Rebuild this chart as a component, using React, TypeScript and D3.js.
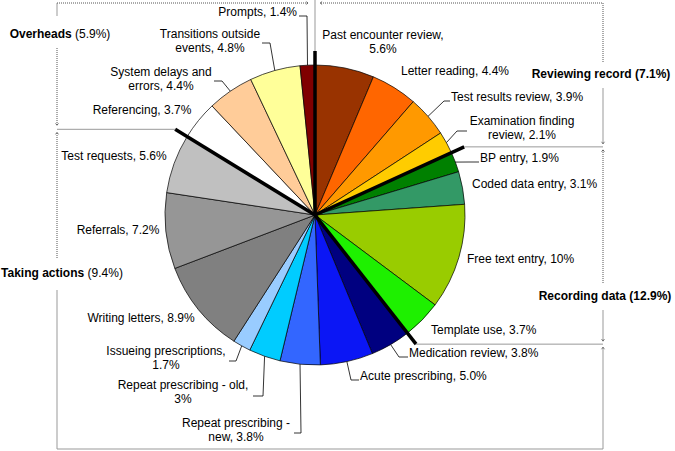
import React from 'react';
import * as d3 from 'd3';

// slices, clockwise from 12 o'clock
const categories = [
  'Past encounter review', 'Letter reading', 'Test results review', 'Examination finding review',
  'BP entry', 'Coded data entry', 'Free text entry', 'Template use',
  'Medication review', 'Acute prescribing', 'Repeat prescribing - new', 'Repeat prescribing - old',
  'Issueing prescriptions', 'Writing letters', 'Referrals', 'Test requests',
  'Referencing', 'System delays and errors', 'Transitions outside events', 'Prompts',
];
const values = [5.6, 4.4, 3.9, 2.1, 1.9, 3.1, 10, 3.7, 3.8, 5.0, 3.8, 3, 1.7, 8.9, 7.2, 5.6, 3.7, 4.4, 4.8, 1.4];
const colors = [
  '#993300', '#ff6600', '#ff9900', '#ffcc00',
  '#008000', '#339966', '#99cc00', '#1ef000',
  '#000080', '#0b16f5', '#3366ff', '#00ccff', '#99ccff', '#808080', '#969696', '#c0c0c0',
  '#ffffff', '#ffcc99', '#ffff99', '#800000',
];

// groups and the slice index each one starts at
const groupNames = ['Reviewing record', 'Recording data', 'Taking actions', 'Overheads'];
const groupValues = ['7.1%', '12.9%', '9.4%', '5.9%'];
const groupStarts = [0, 4, 8, 16];

const W = 675;
const H = 451;
const cx = 315;
const cy = 215;
const R = 150;
const R_EXT = 164;
const LEFT_X = 57;
const RIGHT_X = 603;
const TOP_Y = 3;
const BOTTOM_Y = 449;
const FONT = 'Arial, "Liberation Sans", sans-serif';

// label layout: text lines split, anchor point, leader tail/elbow (null = no leader)
type Lbl = { lines: string[]; x: number; y: number; anchor: string; leader: number[][] | null };
const labelLayout: Lbl[] = [
  { lines: ['Past encounter review,', '5.6%'], x: 383, y: 39, anchor: 'middle', leader: null },
  { lines: ['Letter reading, 4.4%'], x: 455, y: 75, anchor: 'middle', leader: null },
  { lines: ['Test results review, 3.9%'], x: 451, y: 101, anchor: 'start', leader: [[450, 101], [444, 101]] },
  { lines: ['Examination finding', 'review, 2.1%'], x: 522, y: 125, anchor: 'middle', leader: [[467, 131], [457, 131]] },
  { lines: ['BP entry, 1.9%'], x: 480, y: 162, anchor: 'start', leader: [[479, 162], [469, 162]] },
  { lines: ['Coded data entry, 3.1%'], x: 472, y: 188, anchor: 'start', leader: null },
  { lines: ['Free text entry, 10%'], x: 467, y: 263, anchor: 'start', leader: null },
  { lines: ['Template use, 3.7%'], x: 431, y: 334, anchor: 'start', leader: null },
  { lines: ['Medication review, 3.8%'], x: 409, y: 357, anchor: 'start', leader: [[408, 357], [399, 357]] },
  { lines: ['Acute prescribing, 5.0%'], x: 360, y: 380, anchor: 'start', leader: [[359, 380], [351, 380]] },
  { lines: ['Repeat prescribing -', 'new, 3.8%'], x: 236, y: 427, anchor: 'middle', leader: [[294, 433], [301, 433]] },
  { lines: ['Repeat prescribing - old,', '3%'], x: 183, y: 389, anchor: 'middle', leader: [[253, 396], [263, 396]] },
  { lines: ['Issueing prescriptions,', '1.7%'], x: 166, y: 355, anchor: 'middle', leader: [[229, 361], [236, 361]] },
  { lines: ['Writing letters, 8.9%'], x: 141, y: 322, anchor: 'middle', leader: null },
  { lines: ['Referrals, 7.2%'], x: 118, y: 234, anchor: 'middle', leader: null },
  { lines: ['Test requests, 5.6%'], x: 114, y: 160, anchor: 'middle', leader: null },
  { lines: ['Referencing, 3.7%'], x: 142, y: 114, anchor: 'middle', leader: null },
  { lines: ['System delays and', 'errors, 4.4%'], x: 161, y: 76, anchor: 'middle', leader: [[214, 81], [222, 81]] },
  { lines: ['Transitions outside', 'events, 4.8%'], x: 210, y: 38, anchor: 'middle', leader: [[262, 43], [270, 43]] },
  { lines: ['Prompts, 1.4%'], x: 297, y: 16, anchor: 'end', leader: [[299, 16], [307, 16]] },
];

const polar = (a: number, r: number): [number, number] => [cx + Math.sin(a) * r, cy - Math.cos(a) * r];

export default function App() {
  const data = categories.map((c, i) => ({ name: c, value: values[i], color: colors[i] }));
  const pie = d3.pie<any>().value(d => d.value).sort(null).startAngle(0).endAngle(2 * Math.PI);
  const arcs = pie(data);
  const arc = d3.arc<any>().innerRadius(0).outerRadius(R);
  const line = d3.line();

  // ends of the thick group dividers
  const bounds = groupStarts.map(i => polar(arcs[i].startAngle, R_EXT));
  const [, yRev] = bounds[1];
  const [, yRec] = bounds[2];
  const [, yAct] = bounds[3];

  const bracket = (pts: [number, number][], dotted: boolean, arrow: boolean, key: string) => (
    <path key={key} d={line(pts) || ''} fill="none" stroke={dotted ? '#555' : '#999'} strokeWidth={1}
      strokeDasharray={dotted ? '1,1' : undefined} markerEnd={arrow ? 'url(#arr)' : undefined} />
  );

  const groupLabel = (i: number, x: number, y: number, allBold: boolean) => (
    <text key={'g' + i} x={x} y={y} dy="0.35em" textAnchor="middle" fontFamily={FONT} fontSize={12} fill="#000">
      <tspan fontWeight="bold">{groupNames[i]}</tspan>
      <tspan fontWeight={allBold ? 'bold' : 'normal'}>{` (${groupValues[i]})`}</tspan>
    </text>
  );

  return (
    <svg width={W} height={H} style={{ position: 'absolute', left: 0, top: 0, background: '#fff' }}>
      <defs>
        <marker id="arr" viewBox="-5 -5 10 10" refX={0} refY={0} markerWidth={6} markerHeight={6}
          orient="auto" markerUnits="userSpaceOnUse">
          <path d="M-3.5,-2.5 L0,0 L-3.5,2.5" fill="none" stroke="#333" strokeWidth={1} />
        </marker>
      </defs>

      {/* divider at the top, between overheads and reviewing record */}
      {bracket([[cx, 0], [cx, cy - R]], false, false, 'topdiv')}

      {/* pie */}
      <g transform={`translate(${cx},${cy})`}>
        {arcs.map((d, i) => (
          <path key={i} d={arc(d) || ''} fill={d.data.color} stroke="#000" strokeWidth={0.7} />
        ))}
      </g>

      {/* thick group dividers */}
      {bounds.map((p, i) => (
        <line key={'b' + i} x1={cx} y1={cy} x2={p[0]} y2={p[1]} stroke="#000" strokeWidth={3.5} />
      ))}

      {/* horizontal boundary lines out to the brackets */}
      {bracket([bounds[1], [RIGHT_X, yRev]], false, false, 'h1')}
      {bracket([bounds[2], [RIGHT_X, yRec]], false, false, 'h2')}
      {bracket([bounds[3], [LEFT_X, yAct]], false, false, 'h3')}

      {/* Overheads */}
      {bracket([[LEFT_X, 16], [LEFT_X, TOP_Y]], false, false, 'o1')}
      {bracket([[LEFT_X, TOP_Y], [cx - 7, TOP_Y]], true, true, 'o2')}
      {bracket([[LEFT_X, 48], [LEFT_X, yAct - 4]], true, true, 'o3')}
      {groupLabel(3, 60, 34, false)}

      {/* Reviewing record */}
      {bracket([[RIGHT_X, 62], [RIGHT_X, TOP_Y], [cx + 5, TOP_Y]], true, true, 'r1')}
      {bracket([[RIGHT_X, 88], [RIGHT_X, yRev - 3]], false, true, 'r2')}
      {groupLabel(0, 601, 74, true)}

      {/* Recording data */}
      {bracket([[RIGHT_X, 283], [RIGHT_X, yRev + 3]], true, true, 'd1')}
      {bracket([[RIGHT_X, 310], [RIGHT_X, yRec - 3]], false, true, 'd2')}
      {groupLabel(1, 605, 296, true)}

      {/* Taking actions */}
      {bracket([[LEFT_X, 290], [LEFT_X, BOTTOM_Y], [RIGHT_X, BOTTOM_Y], [RIGHT_X, yRec + 3]], false, true, 'a1')}
      {bracket([[LEFT_X, 258], [LEFT_X, yAct + 3]], true, true, 'a2')}
      {groupLabel(2, 62, 273, false)}

      {/* slice labels and leaders */}
      {arcs.map((d, i) => {
        const L = labelLayout[i];
        const mid = (d.startAngle + d.endAngle) / 2;
        const edge = polar(mid, R);
        return (
          <g key={'l' + i}>
            {L.leader && (
              <path d={line([L.leader[0] as [number, number], L.leader[1] as [number, number], edge]) || ''}
                fill="none" stroke="#000" strokeWidth={0.8} />
            )}
            <text x={L.x} y={L.y} dy="0.35em" textAnchor={L.anchor} fontFamily={FONT} fontSize={12} fill="#000">
              {L.lines.map((s, k) => (
                <tspan key={k} x={L.x} dy={k === 0 ? 0 : 14}>{s}</tspan>
              ))}
            </text>
          </g>
        );
      })}
    </svg>
  );
}
